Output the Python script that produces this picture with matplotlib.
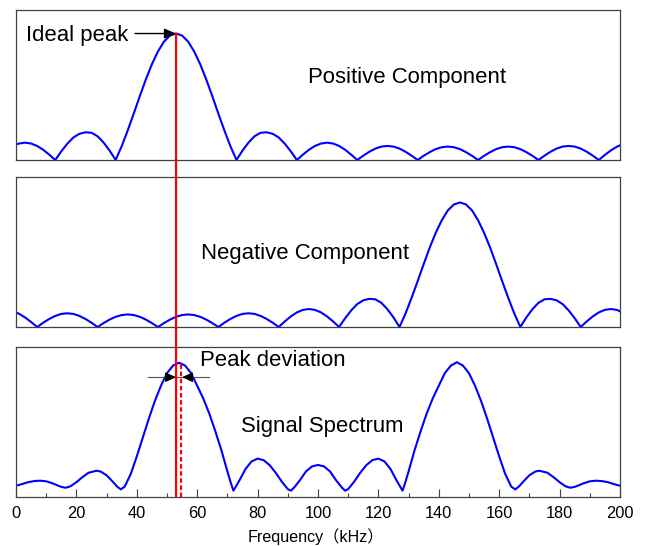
import numpy as np
import matplotlib
matplotlib.use("Agg")
import matplotlib.pyplot as plt
from matplotlib.patches import ConnectionPatch

# frequency grid (kHz) on which the two components were read
comp_freq = np.r_[0, np.arange(1, 200, 2), 200]

# positive component magnitude (peak at 53 kHz)
pos_mag = [0.122, 0.130, 0.137, 0.130, 0.111, 0.081, 0.042, 0.0,
           0.068, 0.129, 0.178, 0.207, 0.219, 0.215, 0.188, 0.138, 0.074, 0.0,
           0.109, 0.234, 0.368, 0.505, 0.637, 0.757, 0.858, 0.936, 0.984, 1.000,
           0.984, 0.936, 0.858, 0.757, 0.637, 0.505, 0.368, 0.234, 0.109, 0.0,
           0.074, 0.138, 0.188, 0.215, 0.219, 0.207, 0.178, 0.129, 0.068, 0.0,
           0.042, 0.081, 0.111, 0.130, 0.137, 0.130, 0.111, 0.081, 0.042, 0.0,
           0.034, 0.065, 0.090, 0.106, 0.111, 0.106, 0.090, 0.065, 0.034, 0.0,
           0.033, 0.062, 0.086, 0.101, 0.106, 0.101, 0.086, 0.062, 0.033, 0.0,
           0.033, 0.062, 0.086, 0.101, 0.106, 0.101, 0.086, 0.062, 0.033, 0.0,
           0.034, 0.065, 0.090, 0.106, 0.111, 0.106, 0.090, 0.065, 0.034, 0.0,
           0.040, 0.076, 0.105, 0.116]

# negative component magnitude (peak at 147 kHz)
neg_mag = [0.116, 0.105, 0.076, 0.040, 0.0,
           0.034, 0.064, 0.088, 0.104, 0.109, 0.104, 0.088, 0.064, 0.034, 0.0,
           0.031, 0.059, 0.081, 0.095, 0.100, 0.095, 0.081, 0.059, 0.031, 0.0,
           0.031, 0.059, 0.081, 0.095, 0.100, 0.095, 0.081, 0.059, 0.031, 0.0,
           0.034, 0.064, 0.088, 0.104, 0.109, 0.104, 0.088, 0.064, 0.034, 0.0,
           0.044, 0.084, 0.116, 0.136, 0.143, 0.136, 0.116, 0.084, 0.044, 0.0,
           0.070, 0.132, 0.182, 0.212, 0.224, 0.220, 0.192, 0.141, 0.076, 0.0,
           0.108, 0.232, 0.364, 0.500, 0.631, 0.749, 0.849, 0.927, 0.974, 0.990,
           0.974, 0.927, 0.849, 0.749, 0.631, 0.500, 0.364, 0.232, 0.108, 0.0,
           0.076, 0.141, 0.192, 0.220, 0.224, 0.212, 0.182, 0.132, 0.070, 0.0,
           0.044, 0.084, 0.116, 0.136, 0.143, 0.136, 0.124]

# combined signal spectrum
sig_freq = [0, 2, 4, 6, 8, 10, 12, 14, 15, 16.4, 18, 20, 22, 24, 26.7, 28, 30, 32, 33.5, 34.7,
            36, 38, 40, 42, 44, 46, 48, 50, 52, 54, 56, 58, 60, 62, 64, 66, 68, 70, 71, 72,
            74, 76, 78, 80, 82, 84, 86, 88, 90, 91, 92, 94, 96, 98, 100, 102, 104, 106, 108, 109,
            110, 112, 114, 116, 118, 120, 122, 124, 126, 128,
            129, 130, 132, 134, 136, 138, 140, 142, 144, 146, 148, 150, 152, 154, 156, 158, 160, 162, 164, 165.3,
            166.5, 168, 170, 172, 173.3, 176, 178, 180, 182, 183.6, 185, 186, 188, 190, 192, 194, 196, 198, 200]
sig_mag = [0.087, 0.100, 0.115, 0.124, 0.127, 0.122, 0.107, 0.087, 0.078, 0.071, 0.082, 0.115, 0.155, 0.190, 0.206, 0.200, 0.170, 0.120, 0.080, 0.058,
           0.080, 0.180, 0.320, 0.470, 0.620, 0.760, 0.880, 0.980, 1.040, 1.063, 1.040, 0.980, 0.880, 0.780, 0.660, 0.520, 0.370, 0.200, 0.120, 0.048,
           0.130, 0.220, 0.280, 0.302, 0.290, 0.250, 0.190, 0.120, 0.060, 0.048, 0.070, 0.130, 0.200, 0.240, 0.252, 0.240, 0.200, 0.130, 0.070, 0.048,
           0.060, 0.120, 0.190, 0.250, 0.290, 0.302, 0.280, 0.220, 0.130, 0.048,
           0.120, 0.200, 0.370, 0.520, 0.660, 0.780, 0.880, 0.980, 1.040, 1.067, 1.040, 0.980, 0.880, 0.760, 0.620, 0.470, 0.320, 0.180, 0.080, 0.058,
           0.080, 0.120, 0.170, 0.200, 0.206, 0.190, 0.155, 0.115, 0.082, 0.071, 0.078, 0.087, 0.107, 0.122, 0.127, 0.124, 0.115, 0.100, 0.087]

ideal_peak = 53.0
measured_peak = 54.5
xticks = list(range(0, 201, 20))

FONT = ['Liberation Sans', 'Noto Sans CJK SC', 'DejaVu Sans']
plt.rcParams['font.family'] = FONT

BLUE = '#0000ff'
RED = '#ff0000'
SPINE = '#404040'
YMAX = 1.19
TXT = 15.9

fig = plt.figure(figsize=(6.45, 5.46), dpi=100)
ax1 = fig.add_axes([0.0248, 0.7070, 0.9364, 0.2756])
ax2 = fig.add_axes([0.0248, 0.4011, 0.9364, 0.2742])
ax3 = fig.add_axes([0.0248, 0.0903, 0.9364, 0.2747])

for ax in (ax1, ax2, ax3):
    ax.set_xlim(0, 200)
    ax.set_ylim(0, YMAX)
    for s in ax.spines.values():
        s.set_color(SPINE)
        s.set_linewidth(0.9)
    ax.set_yticks([])

for ax in (ax1, ax2):
    ax.set_xticks([])

ax1.plot(comp_freq, pos_mag, color=BLUE, lw=1.5)
ax2.plot(comp_freq, neg_mag, color=BLUE, lw=1.5)
ax3.plot(sig_freq, sig_mag, color=BLUE, lw=1.5)

# bottom axis ticks
ax3.set_xticks(xticks)
ax3.set_xticks(range(10, 200, 20), minor=True)
ax3.tick_params(axis='x', which='major', direction='in', length=6, width=0.8,
                color=SPINE, labelsize=11.8, pad=7)
ax3.tick_params(axis='x', which='minor', direction='in', length=3, width=0.8, color=SPINE)

fig.text(316 / 645, 1 - 537 / 546, 'Frequency（kHz）', ha='center', va='center',
         fontsize=11.6, family=FONT)

# ideal peak line running through all panels
con = ConnectionPatch(xyA=(ideal_peak, max(pos_mag)), coordsA=ax1.transData,
                      xyB=(ideal_peak, 0), coordsB=ax3.transData,
                      color=RED, lw=1.6, zorder=5)
fig.add_artist(con)

# measured peak (dotted)
ax3.plot([measured_peak, measured_peak], [0, max(sig_mag[:40])], color=RED, lw=1.6,
         linestyle=(0, (2, 1.2)), zorder=4)

# labels
ax1.text(3.3, 0.939, 'Ideal peak', fontsize=TXT, ha='left', va='baseline')
ax1.annotate('', xy=(ideal_peak, 1.0), xytext=(39.4, 1.0),
             arrowprops=dict(arrowstyle='-|>,head_length=0.7,head_width=0.3',
                             color='black', lw=1.0, shrinkA=0, shrinkB=0))
ax1.text(129.6, 0.609, 'Positive Component', fontsize=TXT, ha='center', va='baseline')
ax2.text(95.6, 0.537, 'Negative Component', fontsize=TXT, ha='center', va='baseline')
ax3.text(60.9, 1.037, 'Peak deviation', fontsize=TXT, ha='left', va='baseline')
ax3.text(74.4, 0.516, 'Signal Spectrum', fontsize=TXT, ha='left', va='baseline')

# peak deviation marker
ydev = 0.948
ax3.plot([43.8, 64.0], [ydev, ydev], color='#555555', lw=0.8, zorder=3)
ax3.annotate('', xy=(ideal_peak, ydev), xytext=(ideal_peak - 3.0, ydev),
             arrowprops=dict(arrowstyle='-|>,head_length=0.65,head_width=0.3',
                             color='black', lw=0.8, shrinkA=0, shrinkB=0), zorder=6)
ax3.annotate('', xy=(measured_peak + 0.5, ydev), xytext=(measured_peak + 3.5, ydev),
             arrowprops=dict(arrowstyle='-|>,head_length=0.65,head_width=0.3',
                             color='black', lw=0.8, shrinkA=0, shrinkB=0), zorder=6)

fig.savefig('out.png', dpi=100)
